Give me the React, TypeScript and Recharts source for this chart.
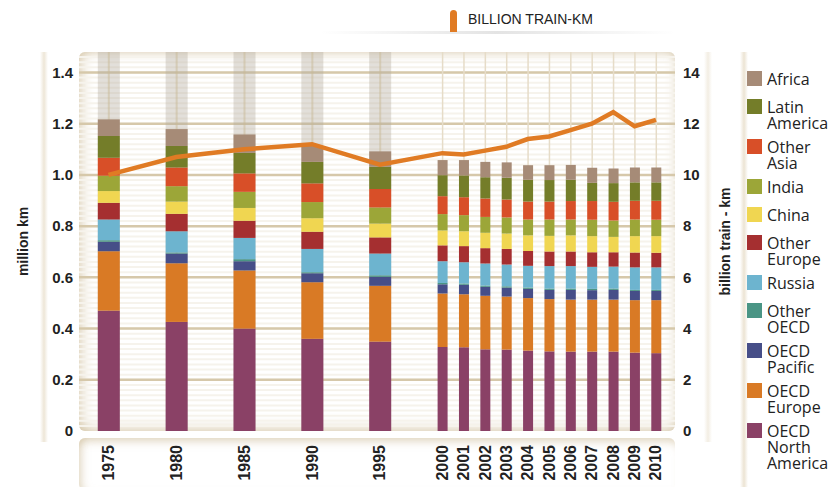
import React from 'react';
import { ComposedChart, Bar, Line, XAxis, YAxis, CartesianGrid } from 'recharts';

const years = [1975, 1980, 1985, 1990, 1995, 2000, 2001, 2002, 2003, 2004, 2005, 2006, 2007, 2008, 2009, 2010];

const oecdNorthAmerica = [0.470, 0.426, 0.400, 0.360, 0.349, 0.328, 0.327, 0.319, 0.318, 0.314, 0.311, 0.310, 0.310, 0.310, 0.306, 0.304];
const oecdEurope = [0.232, 0.229, 0.227, 0.221, 0.218, 0.209, 0.207, 0.209, 0.207, 0.205, 0.204, 0.203, 0.203, 0.203, 0.205, 0.207];
const oecdPacific = [0.037, 0.038, 0.036, 0.035, 0.035, 0.036, 0.037, 0.035, 0.035, 0.036, 0.036, 0.038, 0.037, 0.038, 0.036, 0.036];
const otherOecd = [0.006, 0.004, 0.008, 0.004, 0.006, 0.005, 0.005, 0.005, 0.005, 0.005, 0.005, 0.005, 0.005, 0.005, 0.004, 0.004];
const russia = [0.081, 0.083, 0.083, 0.091, 0.085, 0.085, 0.083, 0.086, 0.085, 0.085, 0.088, 0.088, 0.086, 0.086, 0.088, 0.088];
const otherEurope = [0.065, 0.068, 0.067, 0.067, 0.063, 0.062, 0.063, 0.060, 0.061, 0.058, 0.057, 0.057, 0.057, 0.056, 0.058, 0.057];
const china = [0.046, 0.048, 0.050, 0.053, 0.054, 0.058, 0.058, 0.060, 0.060, 0.061, 0.061, 0.063, 0.063, 0.060, 0.064, 0.065];
const india = [0.060, 0.060, 0.063, 0.063, 0.063, 0.064, 0.063, 0.062, 0.063, 0.062, 0.064, 0.062, 0.064, 0.064, 0.065, 0.064];
const otherAsia = [0.070, 0.073, 0.072, 0.073, 0.072, 0.070, 0.070, 0.072, 0.070, 0.070, 0.070, 0.072, 0.073, 0.073, 0.073, 0.074];
const latinAmerica = [0.085, 0.084, 0.080, 0.084, 0.087, 0.082, 0.085, 0.083, 0.085, 0.085, 0.084, 0.083, 0.071, 0.073, 0.072, 0.072];
const africa = [0.065, 0.066, 0.072, 0.062, 0.060, 0.059, 0.060, 0.060, 0.060, 0.057, 0.058, 0.058, 0.059, 0.057, 0.058, 0.058];

const billionTrainKm = [10.0, 10.7, 11.0, 11.2, 10.4, 10.85, 10.8, 10.95, 11.1, 11.4, 11.5, 11.75, 12.0, 12.45, 11.9, 12.15];

const leftTicks = [0, 0.2, 0.4, 0.6, 0.8, 1.0, 1.2, 1.4];
const rightTicks = [0, 2, 4, 6, 8, 10, 12, 14];

const series = [
  { key: 'na', name: 'OECD North America', color: '#8a4166', values: oecdNorthAmerica },
  { key: 'eu', name: 'OECD Europe', color: '#d97a25', values: oecdEurope },
  { key: 'pac', name: 'OECD Pacific', color: '#464e88', values: oecdPacific },
  { key: 'oo', name: 'Other OECD', color: '#4a9585', values: otherOecd },
  { key: 'ru', name: 'Russia', color: '#6db4cf', values: russia },
  { key: 'oe', name: 'Other Europe', color: '#a52f30', values: otherEurope },
  { key: 'ch', name: 'China', color: '#f0d651', values: china },
  { key: 'in', name: 'India', color: '#9ca638', values: india },
  { key: 'oa', name: 'Other Asia', color: '#d84f28', values: otherAsia },
  { key: 'la', name: 'Latin America', color: '#747d29', values: latinAmerica },
  { key: 'af', name: 'Africa', color: '#a68b77', values: africa },
];

const LINE_COLOR = '#e07b24';

// broken category axis: early 5-year steps are compressed
const axisPos = (year: number) => (year >= 2000 ? year : 1997.08 - (1995 - year) * 0.635);
const yearAt = (pos: number) => {
  let best = years[0];
  let bd = Infinity;
  for (const y of years) {
    const d = Math.abs(axisPos(y) - pos);
    if (d < bd) { bd = d; best = y; }
  }
  return best;
};

const data = years.map((year, i) => {
  const row: any = { year, trainKm: billionTrainKm[i] };
  series.forEach((s) => { row[s.key] = s.values[i]; });
  return row;
});

const BarShape = (props: any) => {
  const { x, y, width, height, fill, payload } = props;
  if (!height || height <= 0) return null;
  const w = payload && payload.year < 2000 ? 22 : 10;
  const cx = x + width / 2;
  return <rect x={cx - w / 2} y={y} width={w} height={height} fill={fill} />;
};

const BgShape = (props: any) => {
  const { x, y, width, height, payload } = props;
  const cx = x + width / 2;
  if (payload && payload.year < 2000) {
    return (
      <g>
        <rect x={cx - 11} y={y} width={22} height={height} fill="rgba(180,172,158,0.38)" />
        <line x1={cx} x2={cx} y1={y} y2={y + height} stroke="rgba(200,185,150,0.5)" strokeWidth={2} />
      </g>
    );
  }
  return <line x1={cx} x2={cx} y1={y} y2={y + height} stroke="#e6dcc8" strokeWidth={1.5} />;
};

const YearTick = (props: any) => {
  const { x, y, payload } = props;
  const yr = yearAt(payload.value);
  return (
    <text
      x={x}
      y={y}
      transform={`rotate(-90 ${x} ${y})`}
      textAnchor="end"
      dominantBaseline="central"
      fontFamily="'Liberation Sans', Arial, sans-serif"
      fontWeight="bold"
      fontSize={16}
      fill="#222"
    >
      {yr}
    </text>
  );
};

const tickStyle = { fill: '#222', fontSize: 15, fontWeight: 'bold', fontFamily: "'Liberation Sans', Arial, sans-serif" } as any;

const leftLabel = (p: any) => {
  const vb = p.viewBox || { x: 0, y: 52, width: 79, height: 379 };
  const cx = vb.x + 23;
  const cy = vb.y + vb.height / 2;
  return (
    <text x={cx} y={cy} transform={`rotate(-90 ${cx} ${cy})`} textAnchor="middle" dominantBaseline="central"
      fontFamily="'Liberation Sans', Arial, sans-serif" fontWeight="bold" fontSize={14} fill="#222">million km</text>
  );
};

const rightLabel = (p: any) => {
  const vb = p.viewBox || { x: 675, y: 52, width: 60, height: 379 };
  const cx = vb.x + 50;
  const cy = vb.y + vb.height / 2;
  return (
    <text x={cx} y={cy} transform={`rotate(-90 ${cx} ${cy})`} textAnchor="middle" dominantBaseline="central"
      fontFamily="'Liberation Sans', Arial, sans-serif" fontWeight="bold" fontSize={14} fill="#222">billion train - km</text>
  );
};

const minorValues: number[] = [];
for (let i = 1; i < 74; i++) minorValues.push(i * 0.02);

export default function App() {
  const legendItems = [...series].reverse();
  return (
    <div style={{ position: 'absolute', left: 0, top: 0, width: 834, height: 487, background: '#fff', overflow: 'hidden' }}>
      {/* decorative panels */}
      <div style={{ position: 'absolute', left: 79, top: 52, width: 596, height: 379, borderRadius: 6,
        boxShadow: 'inset 10px 0 12px -6px rgba(200,180,140,0.55), inset 0 -12px 12px -8px rgba(200,180,140,0.5), inset 0 10px 10px -8px rgba(200,180,140,0.45), inset -8px 0 10px -7px rgba(200,180,140,0.4)' }} />
      <div style={{ position: 'absolute', left: 79, top: 438, width: 596, height: 52, borderRadius: 6,
        boxShadow: 'inset 8px 0 10px -6px rgba(200,180,140,0.55), inset 0 10px 10px -7px rgba(200,180,140,0.55)' }} />
      <div style={{ position: 'absolute', left: 40, top: 52, width: 8, height: 390,
        background: 'linear-gradient(to right, rgba(220,205,175,0.0), rgba(220,205,175,0.5), rgba(220,205,175,0))' }} />
      <div style={{ position: 'absolute', left: 704, top: 52, width: 8, height: 390,
        background: 'linear-gradient(to right, rgba(220,205,175,0.0), rgba(220,205,175,0.35), rgba(220,205,175,0))' }} />
      <div style={{ position: 'absolute', left: 740, top: 52, width: 8, height: 435,
        background: 'linear-gradient(to right, rgba(220,205,175,0.0), rgba(220,205,175,0.55), rgba(220,205,175,0))' }} />
      <div style={{ position: 'absolute', left: 320, top: 31, width: 355, height: 3,
        background: 'linear-gradient(to right, rgba(200,200,200,0), rgba(200,200,200,0.5), rgba(200,200,200,0))' }} />

      {/* top legend for the line */}
      <div style={{ position: 'absolute', left: 450, top: 10, width: 7, height: 22, background: LINE_COLOR, borderRadius: '4px 4px 0 0' }} />
      <div style={{ position: 'absolute', left: 468, top: 10, height: 18, lineHeight: '18px', fontSize: 14,
        fontFamily: "'Liberation Sans', Arial, sans-serif", color: '#222' }}>BILLION TRAIN-KM</div>

      <ComposedChart
        width={834}
        height={487}
        data={data}
        margin={{ top: 52, right: 99, bottom: 0, left: 0 }}
        barSize={10}
        style={{ position: 'absolute', left: 0, top: 0 }}
      >
        <CartesianGrid yAxisId="left" vertical={false} horizontalValues={minorValues} stroke="#f6f3ec" strokeWidth={2} />
        <CartesianGrid yAxisId="left" vertical={false} horizontalValues={leftTicks.slice(1)} stroke="#d6c8aa" strokeWidth={2.5} />
        <XAxis
          type="number"
          dataKey={(d: any) => axisPos(d.year)}
          domain={[1983.0, 2010.89]}
          allowDataOverflow
          ticks={years.map(axisPos)}
          interval={0}
          tick={<YearTick />}
          axisLine={false}
          tickLine={false}
          tickSize={0}
          tickMargin={14}
          height={56}
        />
        <YAxis
          yAxisId="left"
          orientation="left"
          domain={[0, 1.48]}
          ticks={leftTicks}
          allowDataOverflow
          interval={0}
          width={79}
          axisLine={false}
          tickLine={false}
          tickSize={0}
          tickMargin={6}
          tick={tickStyle}
          tickFormatter={(v: number) => (v === 0 ? '0' : v.toFixed(1))}
          label={leftLabel}
        />
        <YAxis
          yAxisId="right"
          orientation="right"
          domain={[0, 14.8]}
          ticks={rightTicks}
          allowDataOverflow
          interval={0}
          width={60}
          axisLine={false}
          tickLine={false}
          tickSize={0}
          tickMargin={8}
          tick={tickStyle}
          label={rightLabel}
        />
        {series.map((s, i) => (
          <Bar
            key={s.key}
            yAxisId="left"
            dataKey={s.key}
            name={s.name}
            stackId="regions"
            fill={s.color}
            isAnimationActive={false}
            shape={<BarShape />}
            background={i === 0 ? (p: any) => <BgShape {...p} /> : undefined}
          />
        ))}
        <Line
          yAxisId="right"
          type="linear"
          dataKey="trainKm"
          name="Billion train-km"
          stroke={LINE_COLOR}
          strokeWidth={4.5}
          dot={false}
          isAnimationActive={false}
          strokeLinejoin="miter"
        />
      </ComposedChart>

      {/* region legend */}
      <div style={{ position: 'absolute', left: 747, top: 71, width: 87, fontFamily: "'Open Sans', sans-serif", fontSize: 16, color: '#222' }}>
        {legendItems.map((s) => (
          <div key={s.key} style={{ display: 'flex', alignItems: 'flex-start', minHeight: 20, marginBottom: 8 }}>
            <div style={{ width: 15, height: 15, background: s.color, flex: '0 0 15px', marginTop: 0 }} />
            <div style={{ marginLeft: 5, width: 66, lineHeight: '16px' }}>{s.name}</div>
          </div>
        ))}
      </div>
    </div>
  );
}
